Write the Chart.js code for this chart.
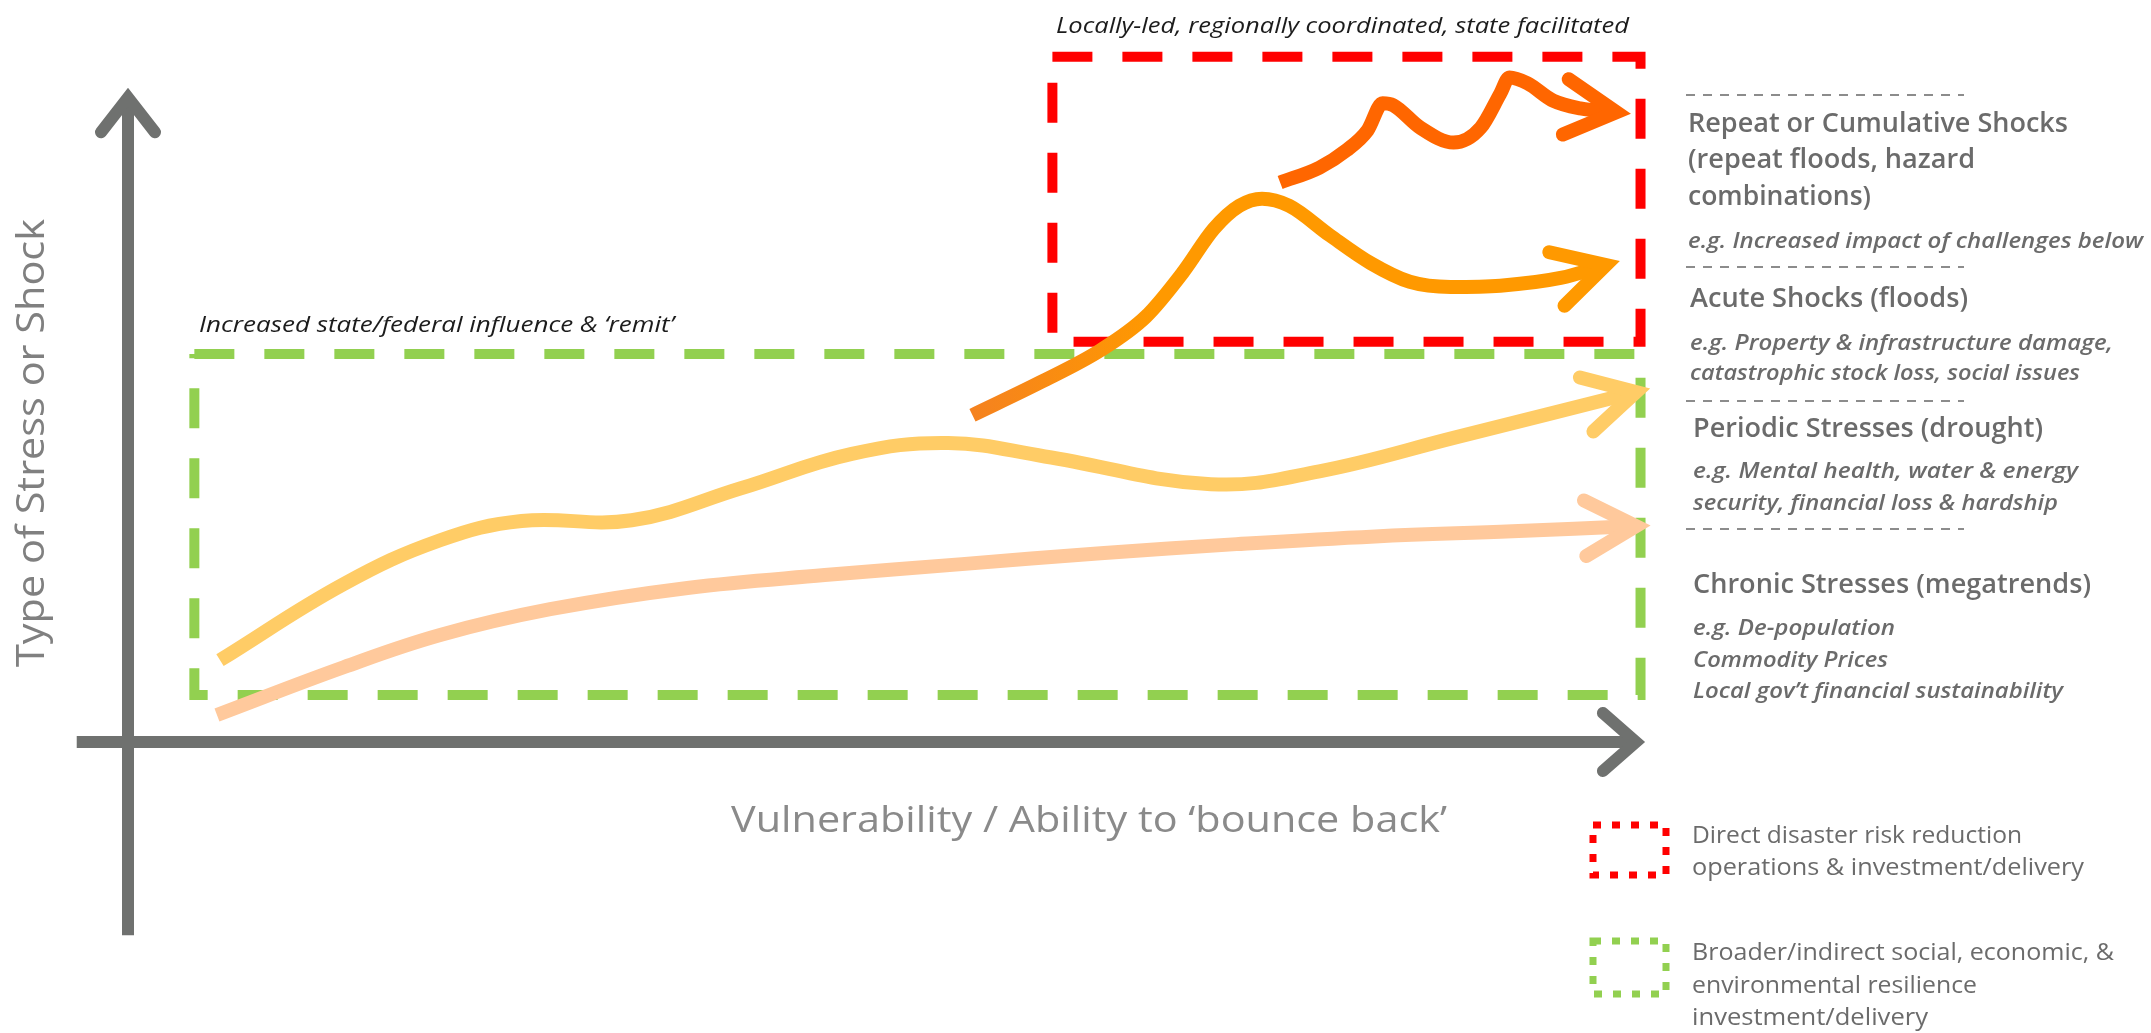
<!DOCTYPE html>
<html><head><meta charset="utf-8">
<script src="https://cdn.jsdelivr.net/npm/chart.js@4/dist/chart.umd.min.js"></script>
<style>html,body{margin:0;padding:0;background:#fff;overflow:hidden}canvas{display:block}</style>
</head><body>
<canvas id="c" width="2151" height="1033"></canvas>
<script>
// ---- Data (x: vulnerability / ability to bounce back, y: type of stress or shock) ----
const chronicX  = [5.9, 14.3, 20.7, 28.0, 37.1, 46.2, 55.3, 64.5, 73.5, 82.7, 91.8, 100];
const chronicY  = [4.2, 11.6, 16.6, 20.6, 23.9, 25.9, 27.6, 29.3, 30.7, 31.9, 32.7, 33.5];

const periodicX = [6.1, 14.3, 20.7, 26.1, 33.4, 40.7, 48.0, 54.4, 60.8, 71.8, 79.0, 88.1, 100];
const periodicY = [12.7, 24.5, 31.3, 34.3, 34.4, 39.4, 44.7, 46.4, 44.3, 40.0, 42.0, 47.3, 54.3];

const acuteX    = [56.0, 60.5, 64.5, 67.5, 70.0, 72.0, 73.7, 75.2, 77.0, 79.7, 82.4, 85.0, 87.7, 91.0, 95.0, 98.0];
const acuteY    = [50.7, 55.8, 60.8, 66.0, 73.0, 79.6, 83.2, 84.3, 83.2, 78.6, 74.3, 71.4, 70.6, 70.8, 72.0, 74.0];

const repeatX   = [76.4, 79.0, 80.8, 82.2, 83.2, 83.9, 85.7, 87.9, 89.7, 91.0, 91.6, 92.8, 94.5, 96.3, 98.7];
const repeatY   = [86.8, 89.1, 91.8, 94.9, 99.1, 98.8, 95.3, 93.0, 95.3, 100.6, 103.1, 102.2, 99.5, 98.3, 97.7];

// Zones (x/y extents in data units)
const redZoneX   = [61.3, 100.3, 100.3, 61.3, 61.3];
const redZoneY   = [106.3, 106.3, 62.1, 62.1, 106.3];
const greenZoneX = [4.4, 100.3, 100.3, 4.4, 4.4];
const greenZoneY = [60.2, 60.2, 7.3, 7.3, 60.2];

// Axis extents
const xAxisRange = [-3.4, 100];
const yAxisRange = [-30, 100];

// Text
const axisTitles = ["Vulnerability / Ability to \u2018bounce back\u2019", "Type of Stress or Shock"];
const zoneTitles = ["Locally-led, regionally coordinated, state facilitated", "Increased state/federal influence & \u2018remit\u2019"];
const stressHeadings = [
  ["Repeat or Cumulative Shocks", "(repeat floods, hazard", "combinations)"],
  ["Acute Shocks (floods)"],
  ["Periodic Stresses (drought)"],
  ["Chronic Stresses (megatrends)"]
];
const stressExamples = [
  ["e.g. Increased impact of challenges below"],
  ["e.g. Property & infrastructure damage,", "catastrophic stock loss, social issues"],
  ["e.g. Mental health, water & energy", "security, financial loss & hardship"],
  ["e.g. De-population", "Commodity Prices", "Local gov\u2019t financial sustainability"]
];
const legendLabels = [
  ["Direct disaster risk reduction", "operations & investment/delivery"],
  ["Broader/indirect social, economic, &", "environmental resilience", "investment/delivery"]
];

const pts = (xs, ys) => xs.map((x, i) => ({x, y: ys[i]}));

const FONT = "'Open Sans','Noto Sans','DejaVu Sans',sans-serif";

function txt(ctx, s, x, y, font, color, width, align) {
  ctx.save();
  ctx.font = font; ctx.fillStyle = color; ctx.textBaseline = 'alphabetic';
  ctx.textAlign = align || 'left';
  const w = ctx.measureText(s).width;
  const sx = width ? width / w : 1;
  ctx.translate(x, y); ctx.scale(sx, 1);
  ctx.fillText(s, 0, 0);
  ctx.restore();
}

function chevron(ctx, tx, ty, ang, len, spread, color, lw) {
  ctx.save();
  ctx.strokeStyle = color; ctx.lineWidth = lw;
  ctx.lineCap = 'round'; ctx.lineJoin = 'miter'; ctx.setLineDash([]);
  ctx.beginPath();
  ctx.moveTo(tx - len * Math.cos(ang - spread), ty - len * Math.sin(ang - spread));
  ctx.lineTo(tx, ty);
  ctx.lineTo(tx - len * Math.cos(ang + spread), ty - len * Math.sin(ang + spread));
  ctx.stroke();
  ctx.restore();
}

const decor = {
  id: 'decor',
  beforeDraw(chart) {
    const {ctx} = chart;
    ctx.save(); ctx.fillStyle = '#fff'; ctx.fillRect(0, 0, chart.width, chart.height); ctx.restore();
  },
  beforeDatasetsDraw(chart) {
    const {ctx, scales: {x, y}} = chart;
    const axisCol = '#6f716f';
    ctx.save();
    ctx.strokeStyle = axisCol; ctx.lineWidth = 12; ctx.lineCap = 'butt';
    const x0 = x.getPixelForValue(0), y0 = y.getPixelForValue(0);
    const yTop = y.getPixelForValue(yAxisRange[1]), yBot = y.getPixelForValue(yAxisRange[0]);
    const xL = x.getPixelForValue(xAxisRange[0]), xR = x.getPixelForValue(xAxisRange[1]);
    ctx.beginPath(); ctx.moveTo(x0, yBot); ctx.lineTo(x0, yTop + 4); ctx.stroke();
    ctx.beginPath(); ctx.moveTo(xL, y0); ctx.lineTo(xR - 4, y0); ctx.stroke();
    ctx.restore();
    chevron(ctx, x0, yTop, -Math.PI / 2, 44, 0.66, axisCol, 12);
    chevron(ctx, xR, y0, 0, 44, 0.72, axisCol, 12);
  },
  afterDatasetsDraw(chart) {
    const {ctx} = chart;
    chart.data.datasets.forEach((ds, i) => {
      if (!ds.arrowHead) return;
      const meta = chart.getDatasetMeta(i);
      const n = meta.data.length;
      const last = meta.data[n - 1], prev = meta.data[n - 2];
      let cx = last.cp1x, cy = last.cp1y;
      if (cx === undefined || (Math.abs(cx - last.x) < 1 && Math.abs(cy - last.y) < 1)) { cx = prev.x; cy = prev.y; }
      const ang = Math.atan2(last.y - cy, last.x - cx);
      chevron(ctx, last.x, last.y, ang, 58, 0.5, ds.arrowColor, ds.borderWidth);
    });

    const gray = '#6b6b6b';
    const H = '600 27px ' + FONT;
    const E = 'italic 600 22px ' + FONT;
    // Top labels
    txt(ctx, zoneTitles[0], 1056, 33, 'italic 400 22px ' + FONT, '#1c1c1c', 573);
    txt(ctx, zoneTitles[1], 199, 332, 'italic 400 22px ' + FONT, '#1c1c1c', 475);
    // Axis titles
    txt(ctx, axisTitles[0], 1089, 832, '400 37px ' + FONT, '#8a8a8a', 716, 'center');
    ctx.save(); ctx.translate(44, 443); ctx.rotate(-Math.PI / 2);
    txt(ctx, axisTitles[1], 0, 0, '400 38px ' + FONT, '#808080', 448, 'center');
    ctx.restore();
    // Separators
    ctx.save(); ctx.strokeStyle = '#8c8c8c'; ctx.lineWidth = 2; ctx.setLineDash([9, 8]);
    [95, 267, 401, 529].forEach(yy => { ctx.beginPath(); ctx.moveTo(1686, yy); ctx.lineTo(1964, yy); ctx.stroke(); });
    ctx.restore();
    // Stress headings & examples
    const hPos = [[1688, [132, 168, 205], [380, 287, 183]], [1690, [307], [278]], [1693, [437], [350]], [1693, [593], [398]]];
    const ePos = [[1688, [248], [455]], [1690, [350, 380], [423, 390]], [1693, [478, 510], [385, 365]], [1693, [635, 667, 698], [202, 195, 370]]];
    stressHeadings.forEach((lines, k) => lines.forEach((s, j) => txt(ctx, s, hPos[k][0], hPos[k][1][j], H, gray, hPos[k][2][j])));
    stressExamples.forEach((lines, k) => lines.forEach((s, j) => txt(ctx, s, ePos[k][0], ePos[k][1][j], E, gray, ePos[k][2][j])));
    // Legend
    ctx.save(); ctx.lineWidth = 7; ctx.setLineDash([8, 11]);
    ctx.strokeStyle = '#ff0000'; ctx.strokeRect(1593, 825, 73, 50);
    ctx.strokeStyle = '#92d050'; ctx.strokeRect(1593, 941, 73, 53);
    ctx.restore();
    const L = '400 24px ' + FONT;
    const lPos = [[[843, 875], [330, 392]], [[960, 993, 1025], [422, 285, 236]]];
    legendLabels.forEach((lines, k) => lines.forEach((s, j) => txt(ctx, s, 1692, lPos[k][0][j], L, gray, lPos[k][1][j])));
  }
};

function acuteGradient(context) {
  const chart = context.chart;
  const {ctx, chartArea, scales} = chart;
  if (!chartArea) return '#ff9900';
  const g = ctx.createLinearGradient(scales.x.getPixelForValue(acuteX[0]), 0, scales.x.getPixelForValue(68), 0);
  g.addColorStop(0, '#f5821f');
  g.addColorStop(1, '#ff9900');
  return g;
}

const lineBase = {showLine: true, pointRadius: 0, pointHoverRadius: 0, borderCapStyle: 'butt', borderJoinStyle: 'round', clip: false, fill: false};
const curve = {cubicInterpolationMode: 'monotone', tension: 0.4};
const smooth = {cubicInterpolationMode: 'default', tension: 0.4};

new Chart(document.getElementById('c'), {
  type: 'scatter',
  data: {
    datasets: [
      Object.assign({label: 'Repeat or Cumulative Shocks', data: pts(repeatX, repeatY), borderColor: '#ff6600', arrowColor: '#ff6600', borderWidth: 14, arrowHead: true}, lineBase, curve),
      Object.assign({label: 'Acute Shocks', data: pts(acuteX, acuteY), borderColor: acuteGradient, arrowColor: '#ff9900', borderWidth: 14, arrowHead: true}, lineBase, curve),
      Object.assign({label: 'Periodic Stresses', data: pts(periodicX, periodicY), borderColor: '#ffcc66', arrowColor: '#ffcc66', borderWidth: 14, arrowHead: true}, lineBase, smooth),
      Object.assign({label: 'Chronic Stresses', data: pts(chronicX, chronicY), borderColor: '#ffc99c', arrowColor: '#ffc99c', borderWidth: 14, arrowHead: true}, lineBase, smooth),
      Object.assign({label: 'Direct disaster risk reduction', data: pts(redZoneX, redZoneY), borderColor: '#ff0000', borderWidth: 10, tension: 0, borderDash: [40, 30]}, lineBase, {borderCapStyle: 'butt', borderJoinStyle: 'miter'}),
      Object.assign({label: 'Broader resilience', data: pts(greenZoneX, greenZoneY), borderColor: '#92d050', borderWidth: 10, tension: 0, borderDash: [40, 30]}, lineBase, {borderCapStyle: 'butt', borderJoinStyle: 'miter'})
    ]
  },
  options: {
    responsive: false,
    devicePixelRatio: 1,
    animation: false,
    events: [],
    layout: {padding: {left: 128, right: 515, top: 33, bottom: 291}},
    scales: {
      x: {type: 'linear', min: 0, max: 100, display: false},
      y: {type: 'linear', min: 0, max: 110, display: false}
    },
    plugins: {legend: {display: false}, tooltip: {enabled: false}, title: {display: false}}
  },
  plugins: [decor]
});
</script>
</body></html>
